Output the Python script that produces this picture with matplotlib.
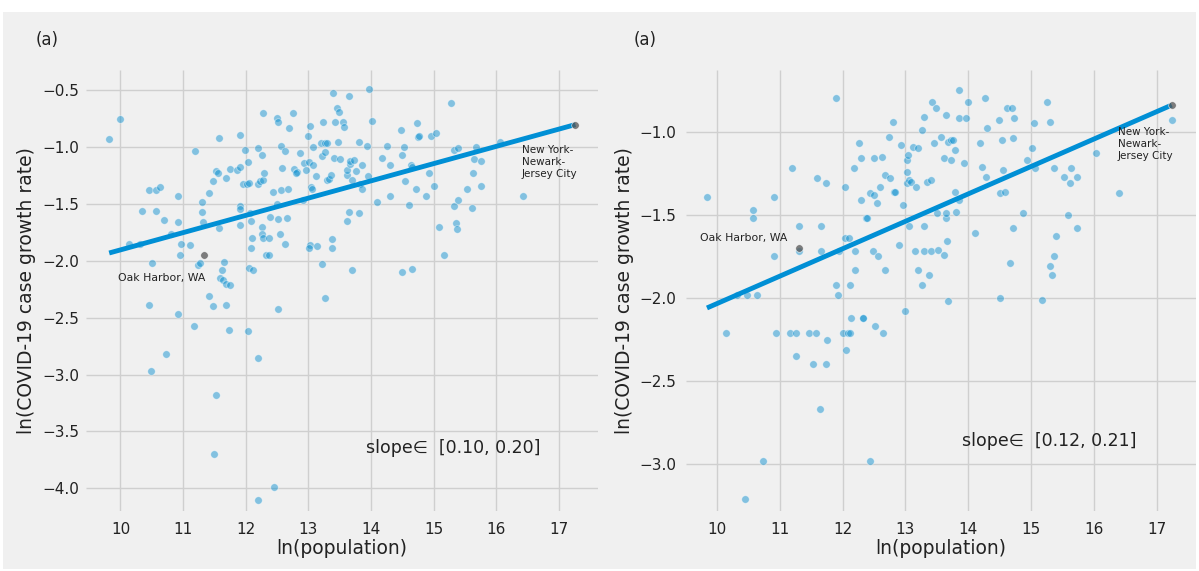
import numpy as np
import matplotlib
matplotlib.use("Agg")
import matplotlib.pyplot as plt
from matplotlib.patches import Rectangle

plt.style.use("fivethirtyeight")
plt.rcParams["font.family"] = ["DejaVu Sans"]

# ---------------- Left panel data ----------------
left_x = [9.82, 10.00, 10.14, 10.31, 10.34, 10.45, 10.50, 10.57, 10.57, 10.63,
          10.70, 10.80, 10.92, 10.92, 10.95, 10.97, 11.11, 11.19, 11.24, 11.27,
          11.30, 11.30, 11.31, 11.41, 11.47, 11.53, 11.55, 11.58, 11.58, 11.68,
          11.74, 11.59, 11.63, 11.68, 11.74, 11.65, 11.62, 11.86, 11.90, 11.91,
          11.91, 11.91, 11.91, 11.96, 11.99, 12.02, 12.04, 12.05, 12.06, 12.08,
          12.09, 12.10, 12.05, 12.12, 12.20, 12.19, 12.23, 12.26, 12.27, 12.28,
          12.29, 12.26, 12.26, 12.28, 12.37, 12.32, 12.37, 12.38, 12.43, 12.49,
          12.52, 12.49, 12.52, 12.54, 12.56, 12.56, 12.58, 12.63, 12.63, 12.66,
          12.67, 12.69, 12.75, 12.77, 12.81, 12.80, 12.87, 12.92, 12.93, 12.96,
          13.00, 13.01, 13.03, 13.04, 13.06, 13.03, 13.01, 13.07, 13.08, 13.12,
          13.14, 13.20, 13.21, 13.23, 13.21, 13.26, 13.27, 13.29, 13.30, 13.33,
          13.36, 13.38, 13.38, 13.39, 13.41, 13.42, 13.45, 13.47, 13.48, 13.50,
          13.55, 13.56, 13.61, 13.62, 13.64, 13.64, 13.62, 13.66, 13.69, 13.67,
          13.70, 13.73, 13.76, 13.80, 13.81, 13.82, 13.85, 13.85, 13.94, 13.95,
          13.97, 14.02, 14.10, 14.17, 14.26, 14.30, 14.30, 14.48, 14.49, 14.52,
          14.54, 14.60, 14.63, 14.65, 14.71, 14.73, 14.75, 14.77, 14.88, 14.92,
          14.96, 15.03, 15.01, 15.09, 15.17, 14.50, 14.65, 15.28, 15.32, 15.33,
          15.35, 15.37, 15.39, 15.38, 15.53, 15.61, 15.63, 15.64, 15.67, 15.75,
          15.75, 16.05, 16.42,
          10.45, 10.48, 10.73, 10.92, 11.17, 11.42, 11.48, 11.53, 11.49, 11.68,
          11.73, 12.04, 12.19, 12.19, 12.45, 12.52, 13.26]
left_y = [-0.93, -0.75, -1.85, -1.85, -1.56, -1.38, -2.02, -1.38, -1.56, -1.35,
          -1.64, -1.76, -1.43, -1.66, -1.95, -1.85, -1.86, -1.03, -2.04, -2.02,
          -1.48, -1.57, -1.66, -1.40, -1.30, -1.21, -1.23, -0.92, -1.71, -1.27,
          -1.19, -2.15, -2.17, -2.20, -2.21, -2.01, -2.08, -1.20, -1.17, -0.89,
          -1.52, -1.54, -1.68, -1.32, -1.02, -1.32, -1.13, -1.31, -1.58, -1.65,
          -1.89, -1.80, -2.06, -2.08, -1.01, -1.32, -1.30, -1.07, -0.70, -1.29,
          -1.23, -1.70, -1.76, -1.80, -1.80, -1.95, -1.95, -1.61, -1.39, -0.74,
          -0.78, -1.50, -1.63, -1.76, -0.99, -1.38, -1.18, -1.03, -1.85, -1.62,
          -1.37, -0.83, -0.70, -1.19, -1.22, -1.23, -1.05, -1.46, -1.14, -1.20,
          -0.90, -1.13, -0.81, -1.35, -1.37, -1.86, -1.89, -1.16, -1.00, -1.25,
          -1.87, -0.96, -1.08, -0.78, -2.03, -0.96, -1.04, -0.96, -1.29, -1.28,
          -1.24, -1.81, -1.89, -0.52, -1.09, -0.78, -0.65, -0.95, -0.69, -1.10,
          -0.78, -0.82, -1.24, -1.20, -0.55, -1.57, -1.65, -1.15, -2.08, -1.12,
          -1.29, -1.11, -1.21, -0.95, -1.58, -1.32, -1.16, -1.37, -0.99, -1.25,
          -0.49, -0.77, -1.48, -1.09, -0.99, -1.16, -1.43, -0.85, -1.07, -1.00,
          -1.30, -1.51, -1.16, -1.17, -1.37, -0.79, -0.91, -0.90, -1.43, -1.23,
          -0.90, -0.87, -1.34, -1.70, -1.95, -2.10, -2.07, -0.61, -1.02, -1.52,
          -1.67, -1.72, -1.46, -1.01, -1.37, -1.53, -1.23, -1.10, -1.00, -1.12,
          -1.34, -0.95, -1.43,
          -2.39, -2.97, -2.82, -2.47, -2.57, -2.31, -2.40, -3.18, -3.70, -2.39,
          -2.61, -2.62, -2.85, -4.10, -3.99, -2.42, -2.33]
left_hl_x = [17.26, 11.33]          # New York-Newark-Jersey City, Oak Harbor, WA
left_hl_y = [-0.80, -1.95]
left_fit_x = [9.82, 17.26]
left_fit_y = [-1.93, -0.80]
left_slope = "slope\u2208  [0.10, 0.20]"

# ---------------- Right panel data ----------------
right_x = [9.84, 10.58, 10.58, 10.91, 10.91, 11.19, 11.31, 11.31, 11.59, 11.66,
           11.66, 11.73, 11.90, 11.90, 11.95, 12.03, 12.04, 12.10, 12.11, 12.18,
           12.20, 12.20, 12.26, 12.30, 12.29, 12.37, 12.39, 12.43, 12.48, 12.50,
           12.50, 12.54, 12.56, 12.59, 12.62, 12.67, 12.67, 12.74, 12.76, 12.81,
           12.82, 12.83, 12.90, 12.93, 12.96, 13.02, 13.04, 13.03, 13.05, 13.03,
           13.06, 13.09, 13.12, 13.15, 13.17, 13.20, 13.20, 13.26, 13.27, 13.30,
           13.29, 13.30, 13.35, 13.38, 13.40, 13.41, 13.43, 13.46, 13.49, 13.50,
           13.52, 13.57, 13.61, 13.61, 13.64, 13.64, 13.64, 13.66, 13.68, 13.72,
           13.73, 13.76, 13.79, 13.80, 13.79, 13.85, 13.85, 13.85, 13.96, 13.94,
           13.99, 14.10, 14.18, 14.22, 14.27, 14.30, 14.28, 14.49, 14.50, 14.53,
           14.55, 14.58, 14.61, 14.70, 14.73, 14.72, 14.72, 14.66, 14.88, 14.93,
           15.01, 15.04, 15.07, 15.25, 15.31, 15.37, 15.39, 15.36, 15.31, 15.33,
           15.53, 15.59, 15.62, 15.63, 15.74, 15.73, 16.04, 16.40, 17.24,
           10.14, 10.32, 10.47, 10.64, 10.94, 11.17, 11.25, 11.25, 11.47, 11.58,
           11.53, 11.73, 11.75, 11.64, 11.92, 12.01, 12.05, 12.08, 12.12, 12.13,
           12.32, 12.33, 12.51, 12.64, 12.44, 10.73, 10.44, 12.99, 13.68, 14.50,
           15.17]
right_y = [-1.39, -1.47, -1.52, -1.39, -1.75, -1.22, -1.57, -1.72, -1.28, -1.57,
           -1.72, -1.31, -0.80, -1.92, -1.72, -1.33, -1.64, -1.64, -1.92, -1.22,
           -1.72, -1.83, -1.07, -1.16, -1.41, -1.52, -1.52, -1.37, -1.72, -1.38,
           -1.16, -1.43, -1.75, -1.33, -1.15, -1.26, -1.83, -1.03, -1.28, -0.94,
           -1.36, -1.36, -1.68, -1.08, -1.44, -1.17, -1.14, -1.24, -1.57, -1.31,
           -1.29, -1.30, -1.09, -1.72, -1.33, -1.10, -1.83, -1.92, -0.99, -0.91,
           -1.57, -1.72, -1.30, -1.86, -1.72, -1.29, -0.82, -1.07, -0.86, -1.49,
           -1.71, -1.03, -1.16, -1.74, -0.90, -1.52, -1.49, -1.66, -1.06, -1.05,
           -1.17, -1.05, -1.11, -1.48, -1.36, -1.41, -0.75, -0.92, -0.92, -1.19,
           -0.82, -1.61, -1.07, -1.21, -0.80, -0.98, -1.27, -0.93, -1.37, -1.05,
           -1.23, -1.36, -0.86, -0.86, -0.92, -1.04, -1.58, -1.79, -1.49, -1.17,
           -1.10, -0.95, -1.22, -0.82, -0.94, -1.22, -1.63, -1.75, -1.81, -1.86,
           -1.27, -1.50, -1.31, -1.22, -1.27, -1.58, -1.13, -1.37, -0.93,
           -2.21, -1.98, -1.98, -1.98, -2.21, -2.21, -2.21, -2.35, -2.21, -2.21,
           -2.40, -2.40, -2.25, -2.67, -1.98, -2.21, -2.31, -2.21, -2.21, -2.12,
           -2.12, -2.12, -2.17, -2.21, -2.98, -2.98, -3.21, -2.08, -2.02, -2.00,
           -2.01]
right_hl_x = [17.24, 11.31]
right_hl_y = [-0.84, -1.70]
right_fit_x = [9.84, 17.24]
right_fit_y = [-2.06, -0.84]
right_slope = "slope\u2208  [0.12, 0.21]"

x_ticks = [10, 11, 12, 13, 14, 15, 16, 17]
left_yticks = [-4.0, -3.5, -3.0, -2.5, -2.0, -1.5, -1.0, -0.5]
right_yticks = [-3.0, -2.5, -2.0, -1.5, -1.0]

BG = "#f0f0f0"
PT = "#0a8fd0"
LINE = "#008fd5"

W, H = 1199, 571
fig = plt.figure(figsize=(W / 100, H / 100), dpi=100, facecolor="white")
fig.patches.append(Rectangle((3 / W, 2 / H), (W - 6) / W, (H - 14) / H,
                             transform=fig.transFigure, facecolor=BG,
                             edgecolor="none", zorder=-10))


def panel(rect, xs, ys, hlx, hly, fx, fy, xlim, ylim, yticks, slope_txt,
          slope_xy, ny_xy, oak_xy, ylab_x, ypad):
    ax = fig.add_axes(rect)
    ax.set_facecolor(BG)
    ax.grid(True, color="#cfcfcf", linewidth=1.0)
    ax.set_axisbelow(True)
    for s in ax.spines.values():
        s.set_visible(False)
    ax.scatter(xs, ys, s=30, color=PT, alpha=0.48, edgecolors="white",
               linewidths=0.6, zorder=2)
    ax.plot(fx, fy, color=LINE, lw=3.5, solid_capstyle="butt", zorder=3)
    ax.scatter(hlx, hly, s=30, color="#555555", alpha=0.75, edgecolors="white",
               linewidths=0.5, zorder=4)
    ax.set_xlim(*xlim)
    ax.set_ylim(*ylim)
    ax.set_xticks(x_ticks)
    ax.set_yticks(yticks)
    ax.set_yticklabels([f"{v:.1f}".replace("-", "\u2212") for v in yticks])
    ax.tick_params(axis="both", labelsize=11, length=0, labelcolor="#222222")
    ax.tick_params(axis="x", pad=8)
    ax.tick_params(axis="y", pad=ypad)
    ax.set_xlabel("ln(population)", fontsize=13.5, labelpad=1, color="#222222")
    ax.set_ylabel("ln(COVID-19 case growth rate)", fontsize=13.5,
                  color="#222222")
    ax.yaxis.set_label_coords(ylab_x, 0.5)
    ax.text(slope_xy[0], slope_xy[1], slope_txt, fontsize=12.5,
            ha="left", va="center", color="#222222")
    ax.text(ny_xy[0], ny_xy[1], "New York-\nNewark-\nJersey City", fontsize=7.5,
            ha="left", va="center", linespacing=1.25, color="#222222")
    ax.text(oak_xy[0], oak_xy[1], "Oak Harbor, WA", fontsize=7.8,
            ha="left", va="center", color="#222222")
    return ax


panel([86 / W, (H - 511) / H, (598 - 86) / W, (511 - 70) / H],
      left_x, left_y, left_hl_x, left_hl_y, left_fit_x, left_fit_y,
      (9.45, 17.62), (-4.20, -0.32), left_yticks, left_slope,
      (13.91, -3.65), (16.40, -1.13), (9.96, -2.15), -0.097, 5)

panel([686 / W, (H - 511) / H, (1196 - 686) / W, (511 - 70) / H],
      right_x, right_y, right_hl_x, right_hl_y, right_fit_x, right_fit_y,
      (9.506, 17.627), (-3.281, -0.629), right_yticks, right_slope,
      (13.90, -2.86), (16.38, -1.077), (9.73, -1.64), -0.102, 7)

fig.text(36 / W, 1 - 40 / H, "(a)", fontsize=12, ha="left", va="center",
         color="#222222")
fig.text(634 / W, 1 - 40 / H, "(a)", fontsize=12, ha="left", va="center",
         color="#222222")

fig.savefig("out.png", dpi=100, facecolor="white")
